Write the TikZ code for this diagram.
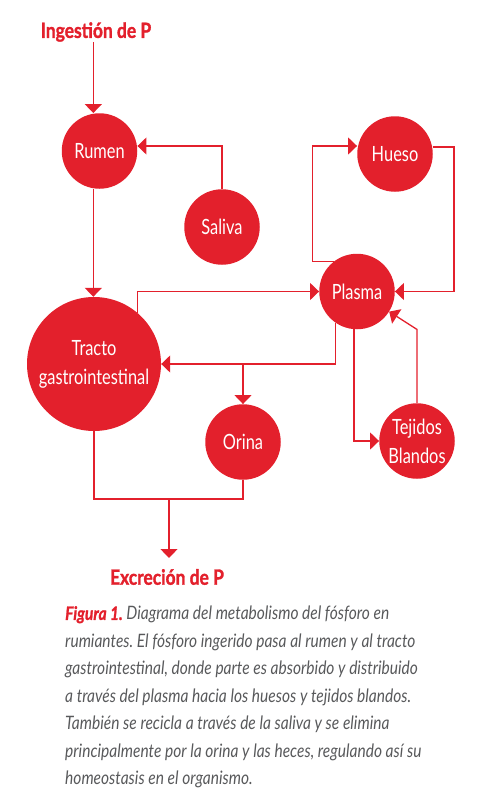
\documentclass[tikz,border=0pt]{standalone}
\usepackage{fontspec}
\usetikzlibrary{arrows.meta}
\newfontfamily\condf{Lato}[FakeStretch=0.78]
\newfontfamily\capf{Lato}[FakeStretch=0.84, BoldFeatures={FakeBold=1.2}, BoldItalicFeatures={FakeBold=1.2}]
\newfontfamily\headf{Lato}[FakeStretch=0.83, BoldFeatures={FakeBold=1.4}]
\definecolor{pred}{HTML}{E3202C}
\definecolor{capgray}{HTML}{58595B}
\tikzset{
  blob/.style={circle, fill=pred, draw=none, text=white, inner sep=0pt, minimum size=#1, align=center, font=\condf\fontsize{21}{29}\selectfont},
  blob/.default=75.5pt,
  link/.style={draw=pred, line width=1.3pt},
  arr/.style={link, -{Triangle[width=17pt,length=9pt]}},
  toplabel/.style={text=pred, inner sep=0pt, font=\headf\bfseries\fontsize{21}{25}\selectfont},
}
\begin{document}
\frenchspacing
\begin{tikzpicture}[x=1pt,y=-1pt]
\useasboundingbox (0,0) rectangle (493,800);
% nodes
\node[toplabel] (ing) at (96,32) {Ingestión de P};
\node[blob] (rumen) at (99.5,151) {Rumen};
\node[blob] (saliva) at (222,227) {Saliva};
\node[blob] (hueso) at (395,154) {Hueso};
\node[blob] (plasma) at (357,291.5) {Plasma};
\node[blob=134pt] (tracto) at (94,364) {Tracto\\gastrointestinal};
\node[blob] (orina) at (243,442) {Orina};
\node[blob] (tejidos) at (417,441) {Tejidos\\Blandos};
\node[toplabel] (exc) at (167,577) {Excreción de P};
% helper coordinates
\coordinate (xa) at (93.3,0);
\coordinate (xb) at (312.7,0);
\coordinate (xc) at (454,0);
\coordinate (j) at (169,499);
\coordinate (exctip) at (169,558);
% connectors
\draw[arr] (xa |- ing.south) -- (xa |- rumen.north);
\draw[arr] (xa |- rumen.south) -- (xa |- tracto.north);
\draw[arr] (saliva.north) |- ([yshift=5pt]rumen.east);
\draw[arr] (tracto.50) |- (plasma.west);
\draw[arr] (plasma.236) |- (tracto.east);
\draw[arr] (orina.north |- tracto.east) -- (orina.north);
\draw[arr] ([xshift=-3pt]plasma.south) |- (tejidos.west);
\draw[arr] (tejidos.north) -- (tejidos.north |- plasma.south) -- (plasma.-32);
\draw[arr] (plasma.127) -- (xb |- plasma.127) |- ([yshift=8pt]hueso.west);
\draw[arr] ([yshift=7pt]hueso.east) -| (xc |- plasma.east) -- (plasma.east);
\draw[link] (tracto.south) |- (j);
\draw[link] (orina.south) |- (j);
\draw[arr] (j) -- (exctip);
% caption
\node[anchor=north west, inner sep=0pt, align=left, text=capgray,
      font=\capf\itshape\fontsize{18.5}{27.5}\selectfont] (cap) at (65,606)
{{\color{pred}\bfseries Figura 1.} Diagrama del metabolismo del fósforo en\\
rumiantes. El fósforo ingerido pasa al rumen y al tracto\\
gastrointestinal, donde parte es absorbido y distribuido\\
a través del plasma hacia los huesos y tejidos blandos.\\
También se recicla a través de la saliva y se elimina\\
principalmente por la orina y las heces, regulando así su\\
homeostasis en el organismo.};
\end{tikzpicture}
\end{document}
